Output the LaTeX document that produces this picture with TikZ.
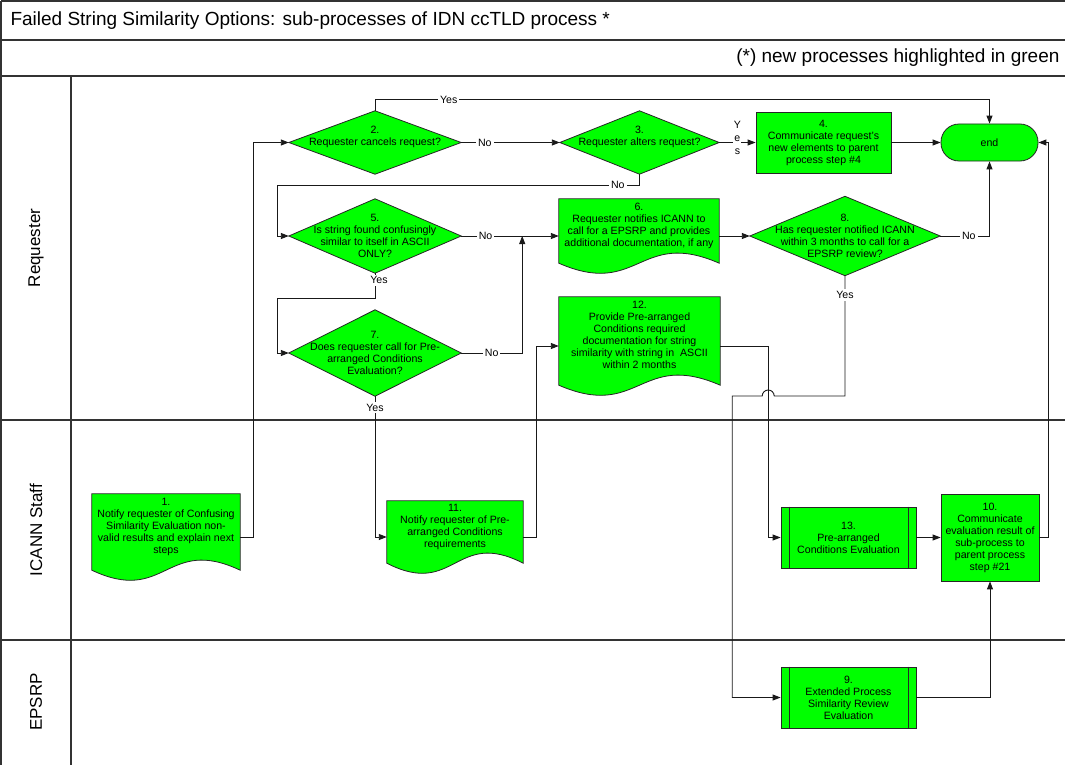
\documentclass[tikz,border=0pt]{standalone}
\usepackage{fontspec}
\setmainfont{Liberation Sans}
\usetikzlibrary{arrows.meta,calc,backgrounds,positioning}

\definecolor{stepgreen}{RGB}{0,255,0}
\newcommand{\bodyfont}{\fontsize{10.6}{12}\selectfont}
\newcommand{\headfont}{\fontsize{19}{22}\selectfont}
\newcommand{\lanefont}{\fontsize{17}{20}\selectfont}
\newcommand{\lift}[1]{\\[#1]\mbox{}}

\tikzset{
  frameline/.style={draw=black!80, line width=1.1pt},
  shapeline/.style={draw=black!85, fill=stepgreen, line width=0.8pt},
  box/.style={shapeline, align=center, inner sep=1pt},
  decision/.style={align=center, inner sep=0pt},
  doc/.style={align=center, inner sep=0pt},
  terminal/.style={box, rounded corners=18pt},
  flow/.style={draw=black!90, line width=0.9pt, -{Triangle[length=8pt,width=6pt]}},
  lbl/.style={fill=white, inner sep=2pt, font=\bodyfont},
  lanename/.style={rotate=90, font=\lanefont},
}

\begin{document}
\begin{tikzpicture}[x=1pt, y=-1pt, font=\bodyfont]
  \useasboundingbox (0,0) rectangle (1065,765);
  % frame and lanes
  \draw[frameline] (1,1) -- (1065,1) (1,1) -- (1,765) (1,40) -- (1065,40) (1,76) -- (1065,76)
    (71,76) -- (71,765) (1,420) -- (1065,420) (1,640) -- (1065,640);
  \node[anchor=west, font=\headfont] (title) at (7,21) {Failed String Similarity Options: sub-processes of IDN ccTLD process *};
  \node[anchor=east, font=\headfont] (note) at (1063,58) {(*) new processes highlighted in green};
  \node[lanename] (lreq) at (36,248) {Requester};
  \node[lanename] (lstaff) at (36,530) {ICANN Staff};
  \node[lanename] (lepsrp) at (36,702) {EPSRP};

  % requester lane
  \node[decision, minimum width=172pt, minimum height=63pt] (d2) at (375,142.5) {2.\\Requester cancels request?\lift{2pt}};
  \node[decision, minimum width=159pt, minimum height=63pt] (d3) at (639.5,142.5) {3.\\Requester alters request?\lift{2pt}};
  \node[box, minimum width=135pt, minimum height=61pt] (p4) at (823.5,142.5) {4.\\Communicate request's\\new elements to parent\\process step \#4};
  \node[terminal, minimum width=97pt, minimum height=37pt] (finish) at (989.5,142.5) {end};
  \node[decision, minimum width=172pt, minimum height=74pt] (d5) at (375,236) {5.\\Is string found confusingly\\similar to itself in ASCII\\ONLY?};
  \node[doc, minimum width=160pt, minimum height=74pt] (doc6) at (639,236) {6.\\Requester notifies ICANN to\\call for a EPSRP and provides\\additional documentation, if any\lift{10pt}};
  \node[decision, minimum width=190pt, minimum height=79pt] (d8) at (845,236) {8.\\Has requester notified ICANN\\within 3 months to call for a\\EPSRP review?};
  \node[decision, minimum width=172pt, minimum height=86pt] (d7) at (375,353) {7.\\Does requester call for Pre-\\arranged Conditions\\Evaluation?};
  \node[doc, minimum width=161pt, minimum height=98pt] (doc12) at (639.5,346) {12.\\Provide Pre-arranged\\Conditions required\\documentation for string\\similarity with string in~ ASCII\\within 2 months\lift{10pt}};

  % ICANN staff lane
  \node[doc, minimum width=148pt, minimum height=86pt] (doc1) at (166,537) {1.\\Notify requester of Confusing\\Similarity Evaluation non-\\valid results and explain next\\steps\lift{10pt}};
  \node[doc, minimum width=136pt, minimum height=72pt] (doc11) at (455,537) {11.\\Notify requester of Pre-\\arranged Conditions\\requirements\lift{10pt}};
  \node[box, minimum width=135pt, minimum height=61pt] (pp13) at (848.5,537.5) {13.\\Pre-arranged\\Conditions Evaluation};
  \node[box, minimum width=98pt, minimum height=87pt] (p10) at (990,537.5) {10.\\Communicate\\evaluation result of\\sub-process to\\parent process\\step \#21};

  % EPSRP lane
  \node[box, minimum width=135pt, minimum height=61pt] (pp9) at (848.5,697.5) {9.\\Extended Process\\Similarity Review\\Evaluation};

  % outlines
  \begin{scope}[on background layer]
    \foreach \d in {d2,d3,d5,d7,d8}
      \filldraw[shapeline] (\d.north) -- (\d.east) -- (\d.south) -- (\d.west) -- cycle;
    \foreach \d in {doc1,doc6,doc11,doc12}
      \filldraw[shapeline] (\d.north west) -- (\d.north east) -- ($(\d.south east)+(0,-10)$)
        .. controls ($(\d.south)+(0,-45)$) and ($(\d.south)+(0,25)$) .. ($(\d.south west)+(0,-10)$) -- cycle;
  \end{scope}
  \foreach \p in {pp9,pp13}
    \draw[draw=black!85, line width=0.8pt] ($(\p.north west)+(8.5,0)$) -- ($(\p.south west)+(8.5,0)$)
      ($(\p.north east)+(-8.5,0)$) -- ($(\p.south east)+(-8.5,0)$);

  % connectors
  \coordinate (bend) at ($(doc12.east)+(48,0)$);
  \draw[flow] (doc1.east) -- ++(13,0) |- (d2.west);
  \draw[flow] (d2.north) -- ++(0,-11) -| node[lbl, pos=0.06] {Yes} (finish.north);
  \draw[flow] (d2.east) -- node[lbl, pos=0.24] {No} (d3.west);
  \draw[flow] (d3.east) -- node[lbl, align=center, font=\fontsize{10.6}{13}\selectfont, yshift=5pt, inner sep=0.5pt] {Y\\e\\s} (p4.west);
  \draw[flow] (p4.east) -- (finish.west);
  \draw[flow] (d3.south) |- node[lbl, pos=0.53] {No} ($(d5.west)+(-11,-51)$) |- (d5.west);
  \draw[flow] (d5.east) -- node[lbl, pos=0.25] {No} (d5.east -| doc6.west);
  \draw[flow] (d5.south) -- node[lbl, pos=0.28, xshift=4pt] {Yes} ++(0,25) -| ($(d7.west)+(-11,0)$) -- (d7.west);
  \draw[flow] (d7.east) -| node[lbl, pos=0.25] {No} ($(d5.east)+(61,0)$);
  \draw[flow] (d7.south) |- node[lbl, pos=0.04] {Yes} (doc11.west);
  \draw[flow] (doc11.east) -- ++(13,0) |- (doc12.west);
  \draw[flow] (doc12.east) -- (bend) |- (pp13.west);
  \draw[flow] (doc6.east) -- (d8.west);
  \draw[flow] (d8.east) -| node[lbl, pos=0.29] {No} (finish.south);
  \draw[flow] (d8.south) |- node[lbl, pos=0.08] {Yes} ($(bend)+(6,50)$)
    arc[start angle=0, end angle=-180, radius=6] -- ($(bend)+(-36,50)$) |- (pp9.west);
  \draw[flow] (pp13.east) -- (p10.west);
  \draw[flow] (pp9.east) -| (p10.south);
  \draw[flow] (p10.east) -- ++(9,0) |- (finish.east);
\end{tikzpicture}
\end{document}
